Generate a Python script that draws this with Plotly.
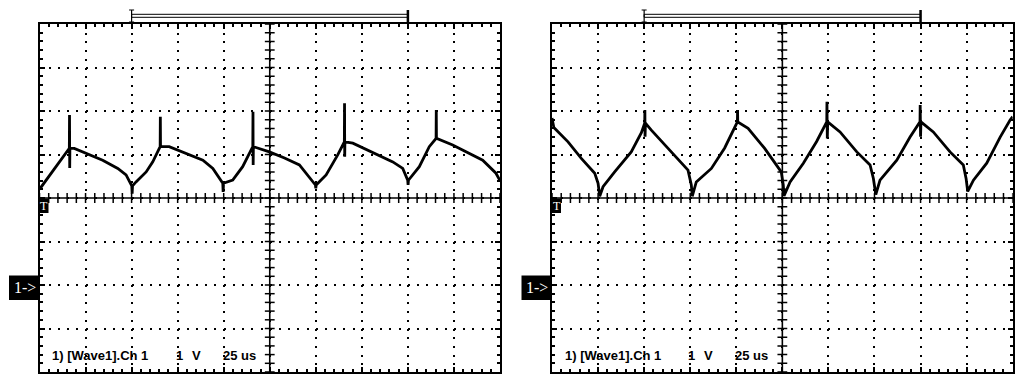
import plotly.graph_objects as go

# page body has an 8px default margin, so the figure is drawn at (8, 8)
OFF = 8
W, H = 1024 - 2 * OFF, 385 - 2 * OFF

# ---------------- data (time in us, voltage in V) ----------------
LEFT_T = [0, 3.6, 7.2, 11.7, 14.4, 16.2, 16.3, 16.4, 16.5, 18.9, 26.5, 34.3, 42.5, 47.0,
          50.1, 50.3, 50.5, 52.4, 57.9, 61.5, 65.5, 65.6, 65.7, 70.4, 79.5, 88.7, 94.1,
          99.5, 99.7, 99.9, 104.9, 110.3, 115.8, 115.9, 116.0, 116.1, 124.8, 133.0, 141.1,
          146.5, 149.8, 150.0, 150.2, 155.6, 161.9, 165.5, 165.6, 165.7, 165.8, 170.1,
          181.0, 191.8, 197.2, 199.9, 200.1, 200.3, 206.2, 211.6, 215.3, 215.4, 215.5,
          224.3, 232.4, 240.6, 247.8, 250]
LEFT_V = [2.20, 2.41, 2.60, 2.87, 3.03, 3.14, 3.91, 2.69, 3.14, 3.14, 3.01, 2.87, 2.68, 2.53,
          2.28, 2.10, 2.28, 2.37, 2.60, 2.83, 3.18, 3.87, 3.18, 3.18, 3.03, 2.87, 2.68,
          2.34, 2.14, 2.34, 2.41, 2.72, 3.18, 3.98, 2.76, 3.18, 3.06, 2.92, 2.76,
          2.49, 2.30, 2.22, 2.30, 2.53, 2.99, 3.29, 4.18, 2.95, 3.29, 3.26,
          3.05, 2.83, 2.68, 2.41, 2.30, 2.41, 2.72, 3.18, 3.37, 4.02, 3.37,
          3.22, 3.05, 2.87, 2.57, 2.40]

RIGHT_T = [0, 1.0, 8.7, 15.9, 23.2, 25.0, 25.9, 27.7, 34.0, 43.0, 48.5, 50.3, 50.4, 50.5,
           50.7, 53.9, 61.2, 70.2, 73.8, 75.6, 76.1, 78.3, 86.5, 93.7, 99.1, 100.6, 100.7,
           100.8, 106.4, 115.4, 124.4, 125.5, 125.9, 129.2, 136.4, 143.6, 149.1, 149.2,
           149.4, 149.6, 156.3, 165.4, 172.6, 174.4, 175.7, 178.0, 187.1, 194.3, 199.7,
           199.8, 200.0, 200.2, 206.9, 216.0, 223.2, 224.7, 225.6, 228.7, 235.9, 243.2,
           248.6, 250]
RIGHT_V = [3.84, 3.62, 3.29, 2.91, 2.57, 2.34, 2.04, 2.26, 2.60, 3.06, 3.50, 3.72, 4.02, 3.41,
           3.72, 3.56, 3.22, 2.80, 2.64, 2.30, 2.04, 2.37, 2.68, 3.15, 3.62, 3.75, 4.02,
           3.75, 3.60, 3.14, 2.60, 2.30, 2.05, 2.37, 2.80, 3.30, 3.75, 4.21,
           3.37, 3.75, 3.52, 3.06, 2.76, 2.45, 2.08, 2.41, 2.87, 3.40, 3.75,
           4.14, 3.41, 3.75, 3.52, 3.06, 2.76, 2.45, 2.15, 2.41, 2.80, 3.40,
           3.79, 3.87]

T_RANGE = [0, 250]      # 10 div x 25 us
V_RANGE = [-2, 6]       # 8 div x 1 V, ground marker at -2 div
T_DIV, V_DIV = 25, 1
T_MINOR, V_MINOR = 5, 0.2
T_CENTER, V_CENTER = 125, 2
BRACKET = [50, 200]
LABEL_PARTS = ["1) [Wave1].Ch 1", "1", "V", "25 us"]

# ---------------- layout geometry (page pixels) ----------------
TOP_PX, BOT_PX = 24, 372
PANELS = [(39.5, 500.0), (552.0, 1012.7)]


def px(x):
    return (x - OFF) / W


def py(y):
    return 1 - (y - OFF) / H


fig = go.Figure()
shapes, annotations = [], []
ydom = [py(BOT_PX), py(TOP_PX)]

for i, ((x0, x1), (tt, vv)) in enumerate(zip(PANELS, [(LEFT_T, LEFT_V), (RIGHT_T, RIGHT_V)])):
    n = "" if i == 0 else str(i + 1)
    xa, ya = "x" + n, "y" + n
    common = dict(showline=True, linewidth=2, linecolor="black", mirror="ticks",
                  ticks="inside", ticklen=5, tickwidth=1.5, tickcolor="black",
                  showticklabels=False, zeroline=False, fixedrange=True,
                  showgrid=True, gridcolor="black", gridwidth=2)
    fig.layout["xaxis" + n] = dict(domain=[px(x0), px(x1)], range=T_RANGE, anchor=ya,
                                   tick0=0, dtick=T_DIV, griddash="2px,6.7px",
                                   minor=dict(tick0=0, dtick=T_MINOR, ticks="inside", ticklen=3,
                                              tickwidth=1.5, tickcolor="black", showgrid=False),
                                   **common)
    fig.layout["yaxis" + n] = dict(domain=ydom, range=V_RANGE, anchor=xa,
                                   tick0=0, dtick=V_DIV, griddash="2px,7.21px",
                                   minor=dict(tick0=0, dtick=V_MINOR, ticks="inside", ticklen=3,
                                              tickwidth=1.5, tickcolor="black", showgrid=False),
                                   **common)
    # center solid lines
    shapes.append(dict(type="line", xref=xa, yref=ya + " domain", x0=T_CENTER, x1=T_CENTER,
                       y0=0, y1=1, line=dict(color="black", width=1.6), layer="below"))
    shapes.append(dict(type="line", xref=xa + " domain", yref=ya, x0=0, x1=1,
                       y0=V_CENTER, y1=V_CENTER, line=dict(color="black", width=1.6), layer="below"))
    # center-line cross ticks
    nt = int((T_RANGE[1] - T_RANGE[0]) / T_MINOR) + 1
    fig.add_trace(go.Scatter(x=[T_RANGE[0] + k * T_MINOR for k in range(nt)], y=[V_CENTER] * nt,
                             xaxis=xa, yaxis=ya, mode="markers", hoverinfo="skip", showlegend=False,
                             marker=dict(symbol="line-ns", size=7, line=dict(width=1.5, color="black"))))
    nv = int(round((V_RANGE[1] - V_RANGE[0]) / V_MINOR)) + 1
    fig.add_trace(go.Scatter(x=[T_CENTER] * nv, y=[V_RANGE[0] + k * V_MINOR for k in range(nv)],
                             xaxis=xa, yaxis=ya, mode="markers", hoverinfo="skip", showlegend=False,
                             marker=dict(symbol="line-ew", size=7, line=dict(width=1.5, color="black"))))
    # waveform
    fig.add_trace(go.Scatter(x=tt, y=vv, xaxis=xa, yaxis=ya, mode="lines", showlegend=False,
                             line=dict(color="black", width=2.8), hoverinfo="skip"))
    # top bracket (hollow bar)
    shapes.append(dict(type="rect", xref=xa, yref="paper", x0=BRACKET[0], x1=BRACKET[1],
                       y0=py(17.3), y1=py(14.3), line=dict(color="black", width=1), fillcolor="white"))
    shapes.append(dict(type="line", xref=xa, yref="paper", x0=BRACKET[0], x1=BRACKET[0],
                       y0=py(22.5), y1=py(10), line=dict(color="black", width=1.2)))
    shapes.append(dict(type="line", xref=xa, yref="paper", x0=BRACKET[1], x1=BRACKET[1],
                       y0=py(22.5), y1=py(10), line=dict(color="black", width=2.5)))
    bx = x0 + (x1 - x0) * BRACKET[0] / (T_RANGE[1] - T_RANGE[0])
    for yy in (10, 22):
        shapes.append(dict(type="line", xref="paper", yref="paper",
                           x0=px(bx - 2.5), x1=px(bx + 2.5),
                           y0=py(yy), y1=py(yy), line=dict(color="black", width=1)))
    # "T" trigger marker
    shapes.append(dict(type="rect", xref="paper", yref="paper", x0=px(x0), x1=px(x0 + 9),
                       y0=py(213), y1=py(198.5), fillcolor="black", line=dict(width=0)))
    annotations.append(dict(xref="paper", yref="paper", x=px(x0 + 4.5), y=py(205.5), text="T",
                            showarrow=False, font=dict(family="Liberation Serif", size=12, color="white"),
                            xanchor="center", yanchor="middle"))
    # "1->" channel marker
    shapes.append(dict(type="rect", xref="paper", yref="paper", x0=px(x0 - 30.5), x1=px(x0),
                       y0=py(300), y1=py(275.5), fillcolor="black", line=dict(width=0)))
    annotations.append(dict(xref="paper", yref="paper", x=px(x0 - 15), y=py(287.5), text="1->",
                            showarrow=False, font=dict(family="Liberation Serif", size=16, color="white"),
                            xanchor="center", yanchor="middle"))
    # bottom label
    for txt, dx in zip(LABEL_PARTS, [10.5, 134, 150, 181]):
        annotations.append(dict(xref="paper", yref="paper", x=px(x0 + dx), y=py(355), text="<b>" + txt + "</b>",
                                showarrow=False, xanchor="left", yanchor="middle",
                                font=dict(family="Liberation Sans", size=13, color="black")))

fig.update_layout(width=W, height=H, margin=dict(l=0, r=0, t=0, b=0),
                  paper_bgcolor="white", plot_bgcolor="white",
                  shapes=shapes, annotations=annotations, showlegend=False)

fig.write_html("out.html")
